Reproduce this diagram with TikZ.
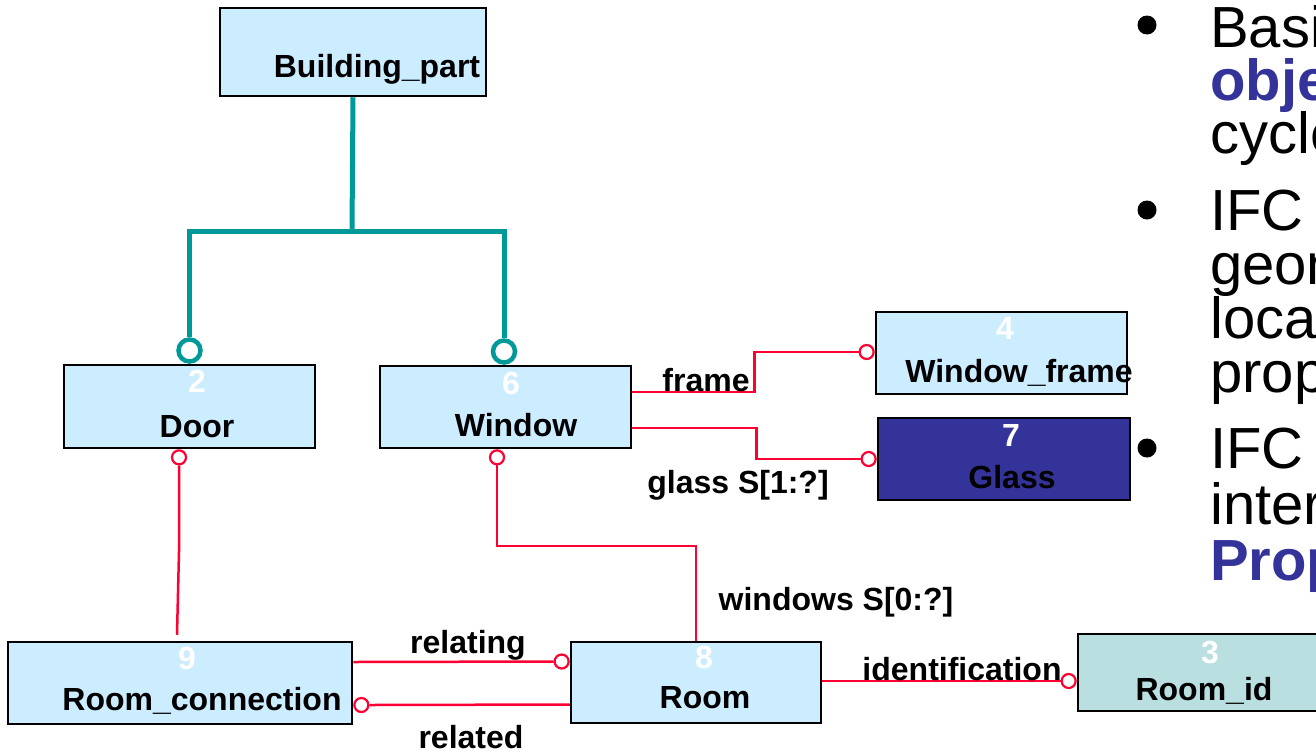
\documentclass[tikz,border=0pt]{standalone}
\usepackage{fontspec}
\setmainfont{Liberation Sans}
\usetikzlibrary{calc}

\definecolor{boxfill}{HTML}{CCECFF}
\definecolor{glassfill}{HTML}{333399}
\definecolor{idfill}{HTML}{B9DFE1}
\definecolor{treeline}{HTML}{009999}
\definecolor{refline}{HTML}{FF0033}
\definecolor{keyword}{HTML}{333399}

\newcommand{\lblfont}{\fontsize{32}{37}\selectfont\bfseries}
\newcommand{\bulletfont}{\fontsize{58}{66}\selectfont}

\tikzset{
  entity/.style={draw=black, line width=2.5pt, fill=boxfill, rectangle, inner sep=0pt},
  num/.style={text=white, font=\lblfont, inner sep=0pt},
  ename/.style={font=\lblfont, anchor=base, inner sep=0pt},
  rlabel/.style={font=\lblfont, anchor=base, inner sep=0pt},
  tree/.style={draw=treeline, line width=5pt},
  tcirc/.style={circle, draw=treeline, line width=4.5pt, fill=white, minimum size=22pt, inner sep=0pt},
  rel/.style={draw=refline, line width=2.5pt},
  rcirc/.style={circle, draw=refline, line width=2.2pt, fill=white, minimum size=14pt, inner sep=0pt},
  btext/.style={font=\bulletfont, anchor=base west, inner sep=0pt},
  bdot/.style={circle, fill=black, minimum size=19pt, inner sep=0pt},
}

\begin{document}
\begin{tikzpicture}[x=1pt, y=-1pt]
\useasboundingbox (0,0) rectangle (1316,753);
\clip (0,0) rectangle (1316,753);

% entity boxes
\node[entity, minimum width=266pt, minimum height=88pt] (bp)     at (353,52)      {};
\node[entity, minimum width=251pt, minimum height=83pt] (door)   at (189.5,406.5) {};
\node[entity, minimum width=251pt, minimum height=82pt] (window) at (505.5,407)   {};
\node[entity, minimum width=251pt, minimum height=82pt] (wframe) at (1001.5,353)  {};
\node[entity, fill=glassfill, minimum width=252pt, minimum height=82pt] (glass) at (1004,459) {};
\node[entity, minimum width=344pt, minimum height=82pt] (rconn)  at (180,683)     {};
\node[entity, minimum width=250pt, minimum height=81pt] (room)   at (696,682.5)   {};
\node[entity, fill=idfill, minimum width=267pt, minimum height=77pt] (roomid) at (1211.5,672.5) {};

% entity numbers and names
\node[ename] (bpname) at (377,77) {Building\_part};
\node[num] (doornum) at (197,381) {2};
\node[ename] (doorname) at (197,437) {Door};
\node[num] (winnum) at (511,383) {6};
\node[ename] (winname) at (516,436) {Window};
\node[num] (wfnum) at (1005,328) {4};
\node[ename] (wfname) at (1019,382) {Window\_frame};
\node[num] (glnum) at (1011,435) {7};
\node[ename] (glname) at (1012,488) {Glass};
\node[num] (rcnum) at (187,658) {9};
\node[ename] (rcname) at (202,710) {Room\_connection};
\node[num] (rmnum) at (704,657) {8};
\node[ename] (rmname) at (705,708) {Room};
\node[num] (idnum) at (1210,652) {3};
\node[ename] (idname) at (1204,700) {Room\_id};

% supertype tree
\node[tcirc, anchor=south] (dsub) at (door.north) {};
\node[tcirc, anchor=south] (wsub) at ($(window.north)+(-1.5,0)$) {};
\coordinate (fork) at ($(bp.south)+(-1,134)$);
\draw[tree] (bp.south) -- (fork);
\draw[tree] (dsub.north) |- (fork) -| (wsub.north);

% attribute circles
\node[rcirc, anchor=north] (dref) at ($(door.south)+(-10.5,0)$) {};
\node[rcirc, anchor=north] (wref) at ($(window.south)+(-8.5,0)$) {};
\node[rcirc, anchor=east] (fref) at ($(wframe.west)+(0,-1)$) {};
\node[rcirc, anchor=east] (gref) at (glass.west) {};
\node[rcirc, anchor=east] (relg) at ($(room.west)+(0,-21)$) {};
\node[rcirc, anchor=west] (reld) at ($(rconn.east)+(0,22)$) {};
\node[rcirc, anchor=east] (idref) at ($(roomid.west)+(0,8.5)$) {};

% attribute connectors
\draw[rel] (dref.south) -- ++(0,86) -- ($(rconn.north)+(-3,-6)$);
\draw[rel] (wref.south) |- ($(room.north)+(0,-95)$) -- (room.north);
\draw[rel] ($(window.east)+(0,-15)$) -- ++(122,0) |- (fref.west);
\draw[rel] ($(window.east)+(0,21)$) -- ++(124,0) |- (gref.west);
\draw[rel] ($(rconn.east)+(0,-21)$) -- (relg.west);
\draw[rel] ($(room.west)+(0,22)$) -- (reld.east);
\draw[rel] ($(room.east)+(0,-1.5)$) -- (idref.west);

% attribute labels
\node[rlabel] (lframe) at (706,391) {frame};
\node[rlabel] (lglass) at (738,493) {glass S[1:?]};
\node[rlabel] (lwin) at (836,610) {windows S[0:?]};
\node[rlabel] (lrelg) at (468,653) {relating};
\node[rlabel] (lreld) at (471,748) {related};
\node[rlabel] (lid) at (962,680) {identification};

% bullet list
\node[bdot] (b1) at (1147,25) {};
\node[bdot] (b2) at (1147,210) {};
\node[bdot] (b3) at (1147,448) {};
\node[btext] (t1) at (1210,47) {Basic};
\node[btext, text=keyword, font=\bulletfont\bfseries] (t2) at (1210,100) {objects};
\node[btext] (t3) at (1210,153) {cycle};
\node[btext] (t4) at (1210,230) {IFC};
\node[btext] (t5) at (1210,284) {geometry};
\node[btext] (t6) at (1210,338) {location};
\node[btext] (t7) at (1210,392) {properties};
\node[btext] (t8) at (1210,468) {IFC};
\node[btext] (t9) at (1210,524) {interface};
\node[btext, text=keyword, font=\bulletfont\bfseries] (t10) at (1210,580) {Property};
\end{tikzpicture}
\end{document}
